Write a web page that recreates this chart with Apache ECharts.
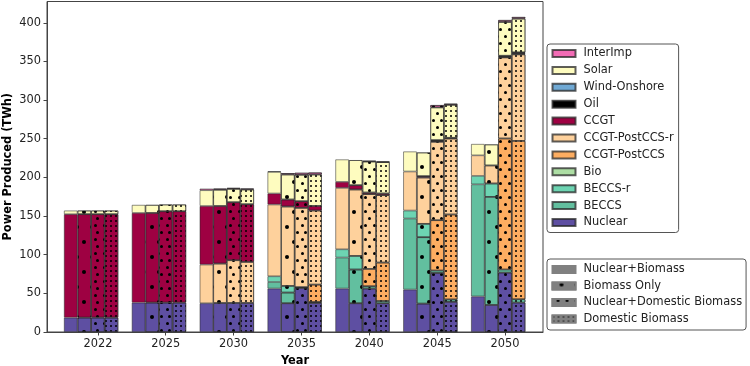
<!DOCTYPE html>
<html>
<head>
<meta charset="utf-8">
<script src="https://cdn.jsdelivr.net/npm/echarts@6/dist/echarts.min.js"></script>
<style>
  html, body { margin: 0; padding: 0; background: #fff; }
  #chart { width: 750px; height: 366px; }
</style>
</head>
<body>
<div id="chart"></div>
<script>
// years and scenarios
var years = ['2022', '2025', '2030', '2035', '2040', '2045', '2050'];
var scenarios = ['Nuclear+Biomass', 'Biomass Only', 'Nuclear+Domestic Biomass', 'Domestic Biomass'];

// TWh per technology, 4 scenario bars per year (year by year)
var nuclear = [18.6, 18.6, 18.6, 18.6, 38, 38, 38, 38, 37.2, 37.5, 37.6, 37.6, 56.2, 37.2, 57.0, 37.6,
    56.2, 37.2, 56.2, 37.2, 54.9, 36.7, 76.4, 39.0, 46.0, 35.0, 76.9, 38.1];
var beccs = [0, 0, 0, 0, 0, 0, 0, 0, 0, 0, 0, 0, 8.5, 13.8, 0, 0,
    40.1, 43.6, 0, 0, 91.9, 85.9, 0, 0, 145, 139.8, 0, 0];
var beccsR = [0, 0, 0, 0, 0, 0, 0, 0, 0, 0, 0, 0, 7.4, 8.6, 1.0, 1.2,
    10.7, 17.6, 3.0, 2.9, 10.3, 17.3, 3.1, 3.1, 10.9, 17.3, 3.9, 4.2];
var bio = [0, 0, 0, 0, 0, 0, 0, 0, 0, 0, 0, 0, 0, 0, 0, 0,
    0, 0, 0, 0, 0, 0, 0, 0, 0, 0, 0, 0];
var ccgtPost = [0, 0, 0, 0, 0, 0, 0, 0, 0, 0, 0, 0, 0, 0, 0, 22.5,
    0, 0, 22.4, 49.7, 0, 0, 65.1, 109.9, 0, 0, 169.5, 204.9];
var ccgtPostR = [0, 0, 0, 0, 0, 0, 0, 0, 50.0, 51.0, 55.2, 53.0, 92.8, 102.7, 102.5, 95.8,
    79.4, 85.9, 96.7, 87.2, 50.5, 59.9, 101.4, 98.2, 26.6, 23.3, 104.9, 111.9];
var ccgt = [133.8, 133.8, 133.8, 133.8, 116, 116, 118.2, 118.2, 75.8, 74.5, 75.1, 74.7, 14.3, 9.1, 8.7, 6.0,
    7.8, 5.6, 2.1, 2.2, 0, 1.8, 1.2, 1.0, 0, 0, 1.0, 1.3];
var oil = [0, 0, 0, 0, 0, 0, 0, 0, 0, 0, 0, 0, 0, 0, 0, 0,
    0, 0, 0, 0, 0, 0, 1.0, 0, 0, 0, 1.1, 1.3];
var wind = [0, 0, 0, 0, 0, 0, 0, 0, 0, 0, 0, 0, 0, 0, 0, 0,
    0, 0, 0, 0, 0, 0, 0, 0, 0, 0, 0, 0];
var solar = [4.7, 4.7, 4.7, 4.7, 10.4, 10.4, 8.7, 8.7, 20.4, 21.0, 17.2, 19.0, 27.9, 32.3, 34.1, 40.6,
    29.0, 32.4, 40.1, 40.5, 25.9, 30.6, 42.3, 42.6, 14.7, 27.2, 43.7, 43.6];
var interImp = [0, 0, 0, 0, 0, 0, 0, 0, 2.0, 1.5, 1.3, 1.2, 0.8, 1.7, 2.6, 2.6,
    0, 0, 0.8, 0.8, 0, 0, 3.0, 1.6, 0, 0, 2.5, 2.1];

var yTicks = [0, 50, 100, 150, 200, 250, 300, 350, 400];

initChart();

function initChart() {
    var chartDom = document.getElementById('chart');
    var myChart = echarts.init(chartDom, null, { renderer: 'canvas' });
    var font = 'DejaVu Sans';
    var fs = 11.4;

    // bottom to top
    var techs = [
        { name: 'Nuclear', data: nuclear, color: '#5e4fa2' },
        { name: 'BECCS', data: beccs, color: '#62bf9f' },
        { name: 'BECCS-r', data: beccsR, color: '#6dd4b2' },
        { name: 'Bio', data: bio, color: '#addea4' },
        { name: 'CCGT-PostCCS', data: ccgtPost, color: '#fdad61' },
        { name: 'CCGT-PostCCS-r', data: ccgtPostR, color: '#fed19c' },
        { name: 'CCGT', data: ccgt, color: '#9e0142' },
        { name: 'Oil', data: oil, color: '#000000' },
        { name: 'Wind-Onshore', data: wind, color: '#70a9d4' },
        { name: 'Solar', data: solar, color: '#fefcbf' },
        { name: 'InterImp', data: interImp, color: '#f26bb5' }
    ];

    var decals = [
        null,
        { symbol: 'circle', symbolSize: 1, color: '#000', dashArrayX: [[3.6, 10.4], [0, 7, 3.6, 3.4]], dashArrayY: [3.6, 10.4] },
        { symbol: 'circle', symbolSize: 1, color: '#000', dashArrayX: [[2.3, 4.7], [0, 3.5, 2.3, 1.2]], dashArrayY: [2.3, 3.9] },
        { symbol: 'circle', symbolSize: 1, color: '#000', dashArrayX: [2, 2.4], dashArrayY: [2, 2.4] }
    ];

    // x position of a bar: 5 slots per year, tick sits on the 3rd bar
    function xPos(i) {
        return Math.floor(i / 4) * 5 + (i % 4) - 2;
    }

    var series = [];
    techs.forEach(function (t) {
        scenarios.forEach(function (sc, s) {
            var itemStyle = { color: t.color, borderColor: 'rgba(40,40,40,0.75)', borderWidth: 0.7 };
            if (decals[s]) itemStyle.decal = decals[s];
            series.push({
                name: t.name,
                type: 'bar',
                stack: 'all',
                barWidth: 13.6,
                itemStyle: itemStyle,
                emphasis: { disabled: true },
                // value first so the stack runs on the value dimension
                encode: { x: 1, y: 0 },
                data: t.data.map(function (v, i) {
                    return [(i % 4 === s && v > 0) ? v : '-', xPos(i)];
                })
            });
        });
    });

    // pattern legend entries
    scenarios.forEach(function (sc, s) {
        var itemStyle = { color: '#808080', borderColor: '#808080', borderWidth: 0.5 };
        if (decals[s]) itemStyle.decal = decals[s];
        series.push({ name: sc, type: 'bar', stack: 'all', barWidth: 13.6, itemStyle: itemStyle, encode: { x: 1, y: 0 }, data: [] });
    });

    var option = {
        animation: false,
        textStyle: { fontFamily: font },
        grid: {
            left: 47, right: 207, top: 1.5, bottom: 34,
            containLabel: false,
            outerBoundsMode: 'none',
            show: true, borderColor: '#444', borderWidth: 1
        },
        legend: [
            {
                data: techs.map(function (t) { return t.name; }).reverse(),
                orient: 'vertical',
                left: 547, top: 44,
                itemWidth: 23, itemHeight: 7, itemGap: 4.9,
                padding: [3.5, 5, 4, 4.5],
                borderColor: '#555', borderWidth: 1, borderRadius: 3,
                selectedMode: false,
                icon: 'rect',
                textStyle: { fontSize: fs, fontFamily: font, color: '#222', lineHeight: 12, padding: [0, 0, 0, 3] }
            },
            {
                data: scenarios,
                orient: 'vertical',
                left: 547, top: 259,
                itemWidth: 23, itemHeight: 7, itemGap: 4.5,
                padding: [4.5, 4, 5, 4.5],
                borderColor: '#555', borderWidth: 1, borderRadius: 3,
                selectedMode: false,
                icon: 'rect',
                textStyle: { fontSize: fs, fontFamily: font, color: '#222', lineHeight: 12, padding: [0, 0, 0, 3] }
            }
        ],
        xAxis: {
            type: 'value',
            min: -3.75,
            max: 32.8,
            name: 'Year',
            nameLocation: 'middle',
            nameGap: 24,
            nameMoveOverlap: false,
            nameTextStyle: { fontWeight: 'bold', fontSize: fs, fontFamily: font, color: '#000' },
            axisLine: { show: true, onZero: false, lineStyle: { color: '#444' } },
            axisTick: { show: true, length: 3.5, lineStyle: { color: '#444' }, customValues: [0, 5, 10, 15, 20, 25, 30] },
            axisLabel: {
                fontSize: fs, color: '#222', margin: 7,
                customValues: [0, 5, 10, 15, 20, 25, 30],
                formatter: function (v) { return years[Math.round(v / 5)]; }
            },
            splitLine: { show: false }
        },
        yAxis: {
            type: 'value',
            min: 0,
            max: 427.5,
            name: 'Power Produced (TWh)',
            nameLocation: 'middle',
            nameGap: 33,
            nameMoveOverlap: false,
            nameTextStyle: { fontWeight: 'bold', fontSize: fs, fontFamily: font, color: '#000' },
            axisLine: { show: true, onZero: false, lineStyle: { color: '#444' } },
            axisTick: { show: true, length: 3.5, lineStyle: { color: '#444' }, customValues: yTicks },
            axisLabel: { fontSize: fs, color: '#222', margin: 6, customValues: yTicks },
            splitLine: { show: false }
        },
        series: series
    };

    option && myChart.setOption(option);
}
</script>
</body>
</html>
